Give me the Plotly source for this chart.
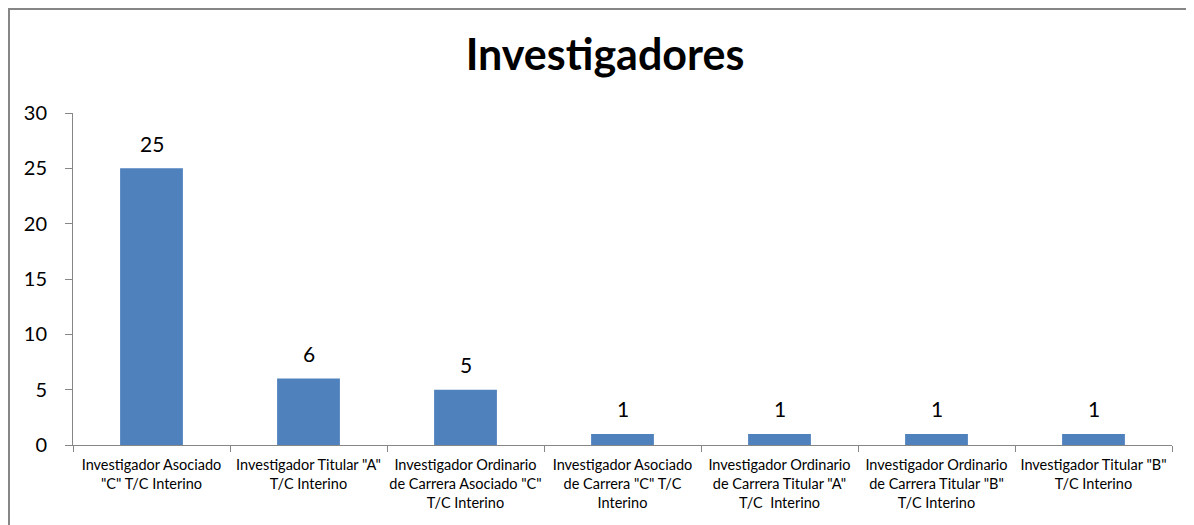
import plotly.graph_objects as go

categories = [
    'Investigador Asociado<br>"C" T/C Interino',
    'Investigador Titular "A"<br>T/C Interino',
    'Investigador Ordinario<br>de Carrera Asociado "C"<br>T/C Interino',
    'Investigador Asociado<br>de Carrera "C" T/C<br>Interino',
    'Investigador Ordinario<br>de Carrera Titular "A"<br>T/C  Interino',
    'Investigador Ordinario<br>de Carrera Titular "B"<br>T/C Interino',
    'Investigador Titular "B"<br>T/C Interino',
]
values = [25, 6, 5, 1, 1, 1, 1]
y_ticks = [0, 5, 10, 15, 20, 25, 30]

# page body margin of 8px offsets the figure
W, H = 1186, 517
L, R, T, B = 65, 22, 105, 80
pw, ph = W - L - R, H - T - B

fig = go.Figure(go.Bar(
    x=categories, y=values,
    marker=dict(color="#4F81BD", line=dict(width=0)),
    width=0.4,
    hoverinfo="x+y",
))

for c, v in zip(categories, values):
    fig.add_annotation(x=c, y=v, text=str(v), showarrow=False,
                       yanchor="middle", yshift=25,
                       font=dict(size=21, family="Lato", color="#000000"))

fig.update_layout(
    width=W, height=H,
    margin=dict(l=L, r=R, t=T, b=B),
    paper_bgcolor="white", plot_bgcolor="white",
    font=dict(family="Lato", color="#000000"),
    title=dict(text="<b>Investigadores</b>", x=597 / W, xref="container",
               y=1 - 47 / H, yref="container",
               yanchor="middle", xanchor="center",
               font=dict(size=43, family="Lato", color="#000000")),
    showlegend=False,
    bargap=0.6,
)
fig.update_xaxes(
    showline=True, linecolor="#868686", linewidth=1,
    ticks="outside", tickson="boundaries", ticklen=6, tickcolor="#868686",
    tickfont=dict(size=14.5, family="Lato"), tickangle=0,
    showgrid=False, ticklabelstandoff=7,
)
fig.update_yaxes(
    range=[0, 30], tickvals=y_ticks, showline=True, linecolor="#868686", linewidth=1,
    ticks="outside", ticklen=7, tickcolor="#868686",
    tickfont=dict(size=20, family="Lato"), showgrid=False, zeroline=False,
    ticklabelstandoff=14,
)
# outer chart frame (only left and top edges fall inside the view)
fig.add_shape(type="rect", xref="paper", yref="paper",
              x0=(1 - L) / pw, x1=(W + 10 - L) / pw,
              y0=(H - 530 - B) / ph, y1=(H - 1 - B) / ph,
              line=dict(color="#868686", width=2), fillcolor="rgba(0,0,0,0)", layer="below")

fig.write_html("out.html")
